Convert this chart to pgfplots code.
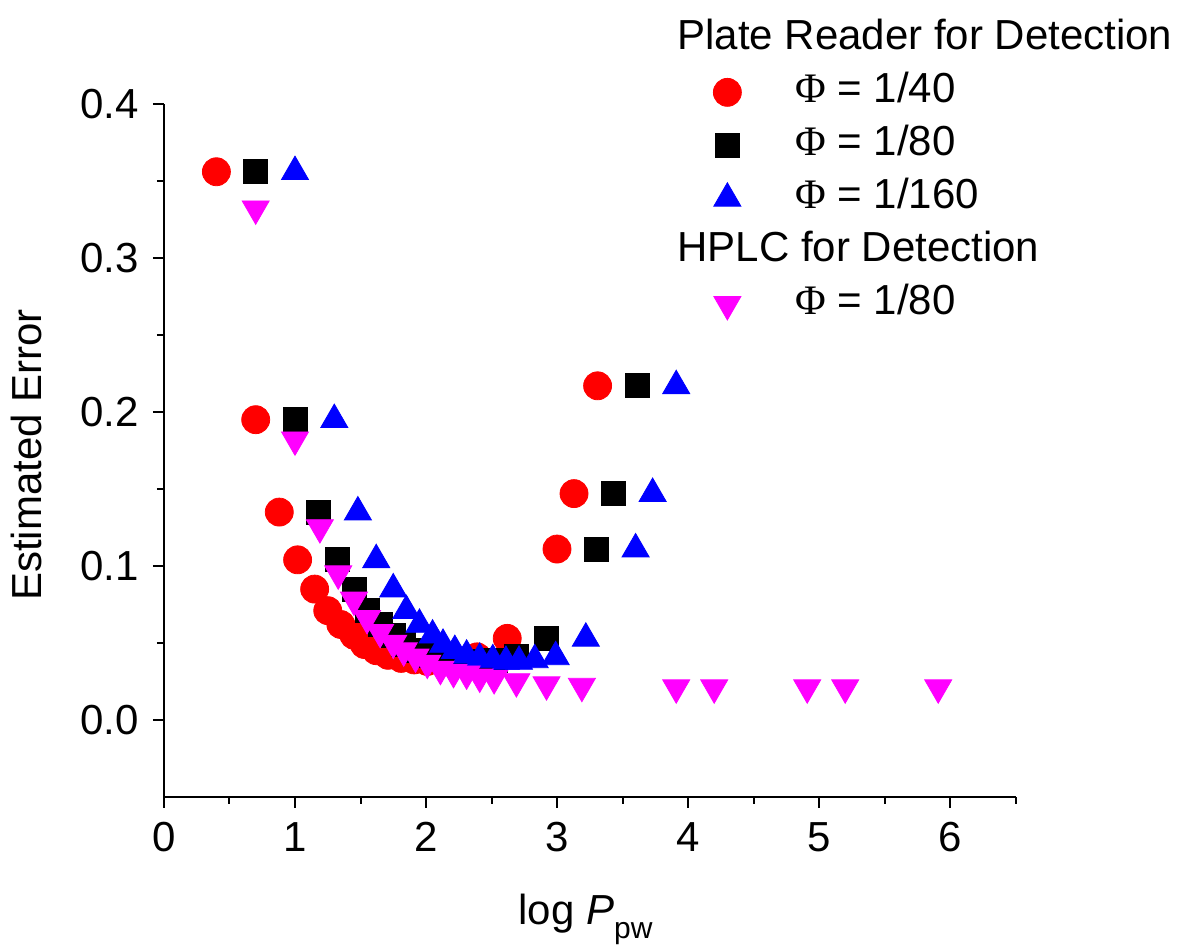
\documentclass[border=0pt]{standalone}
\usepackage{pgfplots}
\pgfplotsset{compat=1.18}
\usepackage{fontspec}
\setmainfont{Liberation Sans}
\newfontfamily\phifont{Liberation Serif}
\newcommand{\bigf}{\fontsize{21}{25}\selectfont}
\definecolor{mag}{RGB}{255,0,255}
\definecolor{rd}{RGB}{255,0,0}
\definecolor{bl}{RGB}{0,0,255}
\begin{document}
\bigf
\begin{tikzpicture}
\path[use as bounding box] (-82pt,-74pt) rectangle (507pt,398.5pt);
\begin{axis}[
  at={(0pt,0pt)}, anchor=south west,
  scale only axis, width=425.75pt, height=346.5pt,
  xmin=0, xmax=6.5, ymin=-0.05, ymax=0.4,
  axis lines=left,
  axis line style={line width=1pt,-},
  tick style={line width=1pt,black},
  tick align=outside,
  major tick length=5.5pt, minor tick length=3.5pt,
  xtick={0,1,2,3,4,5,6},
  minor xtick={0.5,1.5,2.5,3.5,4.5,5.5,6.5},
  ytick={0,0.1,0.2,0.3,0.4},
  minor ytick={0.05,0.15,0.25,0.35},
  /pgf/number format/assume math mode=true,
  yticklabel style={/pgf/number format/.cd, fixed, fixed zerofill, precision=1},
  tick label style={font=\bigf},
  label style={font=\bigf},
  xlabel={log \textit{P}\raisebox{-7pt}{\fontsize{15}{15}\selectfont pw}},
  xlabel style={at={([yshift=-64pt]axis description cs:0.495,0)}, anchor=base},
  ylabel={Estimated Error},
  ylabel style={at={([xshift=-61pt]axis description cs:0,0.4935)}, anchor=base},
  clip=false,
  legend cell align=left,
  legend image code/.code={\path[draw=none,fill=none] (0pt,0pt) rectangle (34pt,0.1pt); \draw[#1] plot coordinates {(0pt,0pt)};},
  legend style={draw=none, fill=none, inner sep=0pt, font=\bigf,
    at={(0.6447,1.122)}, anchor=north west, row sep=7pt,
    nodes={inner sep=0pt, text height=15pt, text depth=4.5pt}},
]
\addlegendimage{empty legend}
\addlegendentry{\hspace*{-59pt}Plate Reader for Detection}
\addplot[only marks, mark=*, mark size=7pt, color=rd] coordinates {
(0.40,0.356) (0.70,0.195) (0.88,0.135) (1.02,0.104) (1.15,0.085) (1.25,0.071)
(1.35,0.062) (1.45,0.055) (1.53,0.049) (1.62,0.045) (1.71,0.042) (1.81,0.040)
(1.91,0.039) (2.01,0.038) (2.11,0.038) (2.23,0.039) (2.39,0.041) (2.62,0.053)
(3.00,0.111) (3.13,0.147) (3.31,0.217)
};
\addlegendentry{{\phifont Φ} = 1/40}
\addplot[only marks, mark=square*, mark size=6pt, color=black] coordinates {
(0.70,0.356) (1.00,0.195) (1.18,0.135) (1.32,0.104) (1.45,0.085) (1.55,0.071)
(1.65,0.062) (1.75,0.055) (1.83,0.049) (1.92,0.045) (2.01,0.042) (2.11,0.040)
(2.21,0.039) (2.31,0.038) (2.41,0.038) (2.53,0.039) (2.69,0.041) (2.92,0.053)
(3.30,0.111) (3.43,0.147) (3.61,0.217)
};
\addlegendentry{{\phifont Φ} = 1/80}
\addplot[only marks, mark=triangle*, mark size=7.8pt, color=bl] coordinates {
(1.00,0.356) (1.30,0.195) (1.48,0.135) (1.62,0.104) (1.75,0.085) (1.85,0.071)
(1.95,0.062) (2.05,0.055) (2.13,0.049) (2.22,0.045) (2.31,0.042) (2.41,0.040)
(2.51,0.039) (2.61,0.038) (2.71,0.038) (2.83,0.039) (2.99,0.041) (3.22,0.053)
(3.60,0.111) (3.73,0.147) (3.91,0.217)
};
\addlegendentry{{\phifont Φ} = 1/160}
\addlegendimage{empty legend}
\addlegendentry{\hspace*{-59pt}HPLC for Detection}
\addplot[only marks, mark=triangle*, mark options={rotate=180}, mark size=7.8pt, color=mag] coordinates {
(0.70,0.332) (1.00,0.182) (1.19,0.125) (1.33,0.095) (1.45,0.078) (1.55,0.066)
(1.65,0.057) (1.75,0.050) (1.83,0.045) (1.92,0.041) (2.01,0.037) (2.11,0.033)
(2.21,0.031) (2.31,0.030) (2.41,0.028) (2.52,0.027) (2.69,0.025) (2.92,0.023)
(3.19,0.022) (3.91,0.021) (4.20,0.021) (4.91,0.021) (5.20,0.021) (5.91,0.021)
};
\addlegendentry{{\phifont Φ} = 1/80}
\end{axis}
\end{tikzpicture}
\end{document}
